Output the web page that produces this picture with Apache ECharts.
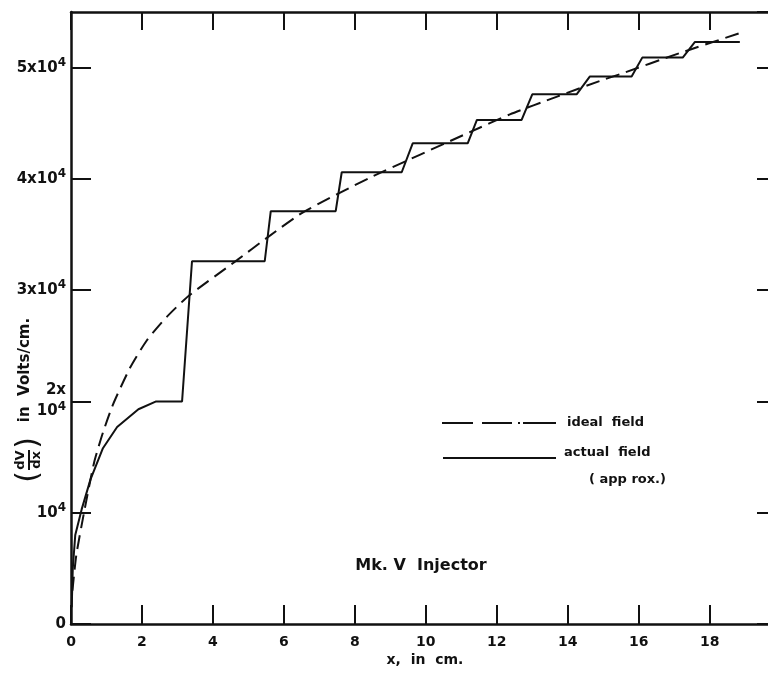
<!DOCTYPE html>
<html>
<head>
<meta charset="utf-8">
<script src="https://cdn.jsdelivr.net/npm/echarts@6/dist/echarts.min.js"></script>
<style>
  html, body { margin: 0; padding: 0; background: #fff; }
  #main { width: 768px; height: 675px; }
</style>
</head>
<body>
<div id="main"></div>
<script>
// actual field (step approximation)
var actualX = [0.02, 0.05, 0.12, 0.3, 0.55, 0.9, 1.3, 1.9, 2.4, 3.13, 3.41, 5.46, 5.63, 7.46, 7.63, 9.32, 9.63, 11.18, 11.44, 12.7, 13.0, 14.25, 14.62, 15.8, 16.1, 17.24, 17.58, 18.85];
var actualY = [1500, 5000, 8000, 10300, 13000, 15800, 17700, 19300, 20000, 20000, 32600, 32600, 37100, 37100, 40600, 40600, 43200, 43200, 45300, 45300, 47600, 47600, 49200, 49200, 50900, 50900, 52300, 52300];

// ideal field
var idealX = [0.04, 0.15, 0.39, 0.65, 0.9, 1.18, 1.66, 2.14, 2.7, 3.32, 4.68, 5.52, 6.54, 8.42, 11.24, 12.37, 13.7, 14.9, 15.46, 17.15, 18.85];
var idealY = [3000, 6200, 10400, 14500, 17200, 19700, 23000, 25500, 27600, 29500, 32700, 34700, 37000, 40100, 44200, 45800, 47400, 48800, 49400, 51300, 53100];

var xTicks = [0, 2, 4, 6, 8, 10, 12, 14, 16, 18];
var yTickValues = [0, 10000, 20000, 30000, 40000, 50000];
var yTickLabels = ['{n|0}', '{n|10}{s|4}', '{n|2x}\n{n|10}{s|4}', '{n|3x10}{s|4}', '{n|4x10}{s|4}', '{n|5x10}{s|4}'];

var FONT = 'DejaVu Sans';
var INK = '#111';

function pairs(xs, ys) {
    return xs.map(function (x, i) { return [x, ys[i]]; });
}

var myChart = echarts.init(document.getElementById('main'));

var option = {
    backgroundColor: '#fff',
    animation: false,
    grid: { left: 71, top: 12, width: 699, height: 612, outerBoundsMode: 'none' },
    xAxis: [{
        type: 'value',
        position: 'bottom',
        min: 0,
        max: 19.7,
        interval: 2,
        splitLine: { show: false },
        axisLine: { onZero: false, lineStyle: { color: INK, width: 2.5 } },
        axisTick: { inside: true, length: 19, lineStyle: { color: INK, width: 2 } },
        axisLabel: {
            margin: 11,
            color: INK,
            fontFamily: FONT,
            fontWeight: 'bold',
            fontSize: 14,
            showMaxLabel: false,
            formatter: function (v) { return xTicks.indexOf(v) >= 0 ? String(v) : ''; }
        }
    }, {
        type: 'value',
        position: 'top',
        min: 0,
        max: 19.7,
        interval: 2,
        splitLine: { show: false },
        axisLine: { onZero: false, lineStyle: { color: INK, width: 2.5 } },
        axisTick: { inside: true, length: 18, lineStyle: { color: INK, width: 2 } },
        axisLabel: { show: false }
    }],
    yAxis: [{
        type: 'value',
        position: 'left',
        min: 0,
        max: 55000,
        interval: 10000,
        splitLine: { show: false },
        axisLine: { onZero: false, lineStyle: { color: INK, width: 2.5 } },
        axisTick: { inside: true, length: 20, lineStyle: { color: INK, width: 2 } },
        axisLabel: {
            margin: 5,
            color: INK,
            showMaxLabel: false,
            formatter: function (v) {
                var i = yTickValues.indexOf(v);
                return i >= 0 ? yTickLabels[i] : '';
            },
            rich: {
                n: { fontFamily: FONT, fontWeight: 'bold', fontSize: 15, color: INK, lineHeight: 20, align: 'right' },
                s: { fontFamily: FONT, fontWeight: 'bold', fontSize: 12, color: INK, verticalAlign: 'top', padding: [0, 0, 10, 0] }
            }
        }
    }, {
        type: 'value',
        position: 'right',
        min: 0,
        max: 55000,
        interval: 10000,
        splitLine: { show: false },
        axisLine: { show: false, onZero: false },
        axisTick: { show: true, inside: true, length: 13, lineStyle: { color: INK, width: 2 } },
        axisLabel: { show: false }
    }],
    series: [{
        name: 'ideal field',
        type: 'line',
        xAxisIndex: 0,
        yAxisIndex: 0,
        showSymbol: false,
        smooth: 0.2,
        lineStyle: { color: INK, width: 2, type: [14, 7] },
        data: pairs(idealX, idealY)
    }, {
        name: 'actual field',
        type: 'line',
        xAxisIndex: 0,
        yAxisIndex: 0,
        showSymbol: false,
        lineStyle: { color: INK, width: 2 },
        data: pairs(actualX, actualY)
    }],
    graphic: [
        // legend
        { type: 'line', shape: { x1: 442, y1: 423, x2: 556, y2: 423 },
          style: { stroke: INK, lineWidth: 2, lineDash: [31, 9, 30, 6, 2, 3, 34, 0] } },
        { type: 'text', x: 567, y: 423,
          style: { text: 'ideal  field', fontFamily: FONT, fontWeight: 'bold', fontSize: 13, fill: INK, textVerticalAlign: 'middle' } },
        { type: 'line', shape: { x1: 443, y1: 458, x2: 556, y2: 458 },
          style: { stroke: INK, lineWidth: 2 } },
        { type: 'text', x: 564, y: 453,
          style: { text: 'actual  field', fontFamily: FONT, fontWeight: 'bold', fontSize: 13, fill: INK, textVerticalAlign: 'middle' } },
        { type: 'text', x: 589, y: 480,
          style: { text: '( app rox.)', fontFamily: FONT, fontWeight: 'bold', fontSize: 13, fill: INK, textVerticalAlign: 'middle' } },
        // annotation
        { type: 'text', x: 421, y: 566,
          style: { text: 'Mk. V  Injector', fontFamily: FONT, fontWeight: 'bold', fontSize: 16, fill: INK, textAlign: 'center', textVerticalAlign: 'middle' } },
        // x axis title
        { type: 'text', x: 425, y: 660,
          style: { text: 'x,  in  cm.', fontFamily: FONT, fontWeight: 'bold', fontSize: 14, fill: INK, textAlign: 'center', textVerticalAlign: 'middle' } },
        // y axis title, rotated
        { type: 'text', x: 25, y: 370, rotation: Math.PI / 2,
          style: { text: 'in  Volts/cm.', fontFamily: FONT, fontWeight: 'bold', fontSize: 15, fill: INK, textAlign: 'center', textVerticalAlign: 'middle' } },
        {
            type: 'group', x: 29, y: 460, rotation: Math.PI / 2,
            children: [
                { type: 'text', x: 0, y: -8,
                  style: { text: 'dV', fontFamily: FONT, fontWeight: 'bold', fontSize: 13, fill: INK, textAlign: 'center', textVerticalAlign: 'middle' } },
                { type: 'line', shape: { x1: -10, y1: 0, x2: 10, y2: 0 }, style: { stroke: INK, lineWidth: 2 } },
                { type: 'text', x: 0, y: 8,
                  style: { text: 'dx', fontFamily: FONT, fontWeight: 'bold', fontSize: 13, fill: INK, textAlign: 'center', textVerticalAlign: 'middle' } },
                { type: 'text', x: -17, y: 0,
                  style: { text: '(', fontFamily: FONT, fontSize: 30, fill: INK, textAlign: 'center', textVerticalAlign: 'middle' } },
                { type: 'text', x: 17, y: 0,
                  style: { text: ')', fontFamily: FONT, fontSize: 30, fill: INK, textAlign: 'center', textVerticalAlign: 'middle' } }
            ]
        }
    ]
};

myChart.setOption(option);
</script>
</body>
</html>
